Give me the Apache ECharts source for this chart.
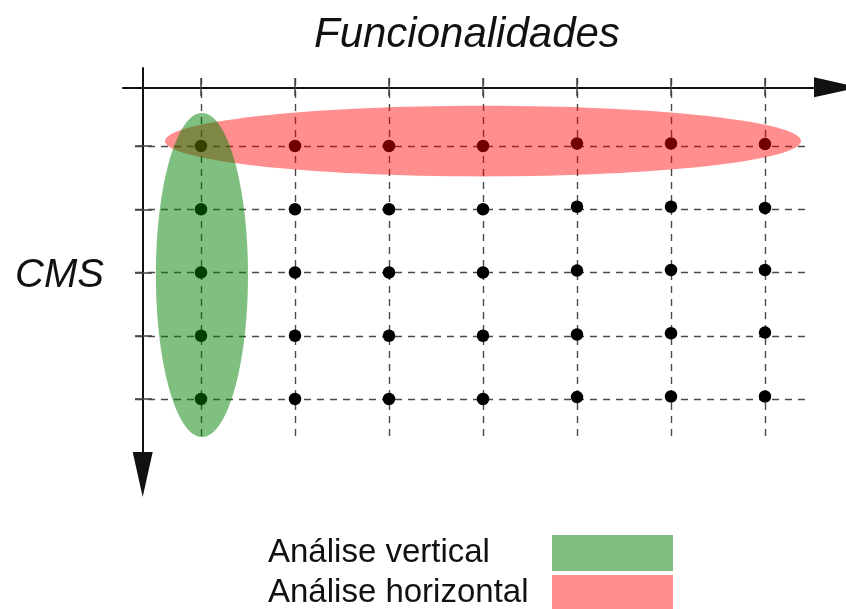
<!DOCTYPE html>
<html>
<head>
<meta charset="utf-8">
<script src="https://cdn.jsdelivr.net/npm/echarts@6/dist/echarts.min.js"></script>
<style>html,body{margin:0;padding:0;background:#fff;}#c{width:846px;height:609px;}</style>
</head>
<body>
<div id="c"></div>
<script>
// ---- data ----
const columns = [1, 2, 3, 4, 5, 6, 7];           // Funcionalidades
const rows = [1, 2, 3, 4, 5];                    // CMS
// observed row position of each dot (one array per row, one value per column)
const dotsRow1 = [1, 1, 1, 1, 0.96, 0.96, 0.97];
const dotsRow2 = [2, 2, 2, 2, 1.96, 1.96, 1.98];
const dotsRow3 = [3, 3, 3, 3, 2.97, 2.96, 2.96];
const dotsRow4 = [4, 4, 4, 4, 3.98, 3.96, 3.95];
const dotsRow5 = [5, 5, 5, 5, 4.97, 4.96, 4.96];
// highlighted regions: [colFrom, colTo, rowFrom, rowTo]
const verticalRegion = [0.52, 1.5, 0.478, 5.6];
const horizontalRegion = [0.617, 7.383, 0.363, 1.482];
const legendNames = ['Análise vertical', 'Análise horizontal'];
const xTitle = 'Funcionalidades';
const yTitle = 'CMS';

const dotRows = [dotsRow1, dotsRow2, dotsRow3, dotsRow4, dotsRow5];
const dots = [];
dotRows.forEach(r => r.forEach((v, i) => dots.push([columns[i], v])));

const chart = echarts.init(document.getElementById('c'), null, {renderer: 'canvas'});
const FONT = 'Liberation Sans';
const dash = {color: '#4a4a4a', width: 1.4, type: [7, 6]};
const tickStyle = {color: '#444', width: 1.5};

function ellipseItem(params, api) {
  const p0 = api.coord([api.value(0), api.value(2)]);
  const p1 = api.coord([api.value(1), api.value(3)]);
  return {
    type: 'ellipse',
    shape: {
      cx: (p0[0] + p1[0]) / 2, cy: (p0[1] + p1[1]) / 2,
      rx: Math.abs(p1[0] - p0[0]) / 2, ry: Math.abs(p1[1] - p0[1]) / 2
    },
    style: {fill: api.visual('color')}
  };
}

chart.setOption({
  animation: false,
  backgroundColor: '#fff',
  title: [
    {text: xTitle, left: 314, top: 14, padding: 0,
     textStyle: {fontSize: 42, fontStyle: 'italic', fontWeight: 'normal', fontFamily: FONT, color: '#111'}},
    {text: yTitle, left: 15, top: 256, padding: 0,
     textStyle: {fontSize: 40, fontStyle: 'italic', fontWeight: 'normal', fontFamily: FONT, color: '#111'}}
  ],
  legend: {
    data: legendNames,
    orient: 'vertical',
    left: 268, top: 535, height: 90,
    padding: 0,
    align: 'right',
    icon: 'rect',
    itemWidth: 121, itemHeight: 36, itemGap: 4,
    selectedMode: false,
    formatter: name => '{t|' + name + '}',
    textStyle: {
      fontSize: 33, fontFamily: FONT, color: '#111',
      rich: {t: {width: 279, align: 'left', fontSize: 33, fontFamily: FONT, color: '#111'}}
    }
  },
  grid: [
    {left: 123, right: 9.5, top: 68, bottom: 134.5},
    {left: 135, right: 41, top: 78, bottom: 167.3}
  ],
  xAxis: [
    {type: 'value', gridIndex: 0, min: 0.1702, max: 7.7606, position: 'top', offset: -19.3,
     axisLine: {show: true, onZero: false, symbol: ['none', 'triangle'], symbolSize: [20, 45],
                lineStyle: {color: '#111', width: 2}},
     axisTick: {show: false}, axisLabel: {show: false}, splitLine: {show: false}},
    {type: 'value', gridIndex: 1, min: 0.2979, max: 7.4255, position: 'top',
     axisLine: {show: false, onZero: false},
     axisTick: {show: true, inside: true, length: 18, customValues: columns, lineStyle: tickStyle},
     axisLabel: {show: false, customValues: columns},
     splitLine: {show: true, lineStyle: dash}}
  ],
  yAxis: [
    {type: 'value', gridIndex: 0, min: -0.2332, max: 6.1937, inverse: true, position: 'left', offset: -19.7,
     axisLine: {show: true, onZero: false, symbol: ['triangle', 'none'], symbolSize: [20, 45],
                lineStyle: {color: '#111', width: 2}},
     axisTick: {show: false}, axisLabel: {show: false}, splitLine: {show: false}},
    {type: 'value', gridIndex: 1, min: -0.0751, max: 5.675, inverse: true, position: 'left',
     axisLine: {show: false, onZero: false},
     axisTick: {show: true, inside: true, length: 17, customValues: rows, lineStyle: tickStyle},
     axisLabel: {show: false, customValues: rows},
     splitLine: {show: true, lineStyle: dash}}
  ],
  series: [
    {type: 'scatter', xAxisIndex: 1, yAxisIndex: 1, data: dots, symbol: 'circle', symbolSize: 12.5,
     itemStyle: {color: '#000', opacity: 1}, silent: true, z: 1},
    {type: 'custom', name: legendNames[1], xAxisIndex: 1, yAxisIndex: 1, renderItem: ellipseItem,
     data: [horizontalRegion], itemStyle: {color: 'rgba(255,0,0,0.44)'}, silent: true, z: 3},
    {type: 'custom', name: legendNames[0], xAxisIndex: 1, yAxisIndex: 1, renderItem: ellipseItem,
     data: [verticalRegion], itemStyle: {color: 'rgba(0,128,0,0.5)'}, silent: true, z: 4}
  ]
});
</script>
</body>
</html>
